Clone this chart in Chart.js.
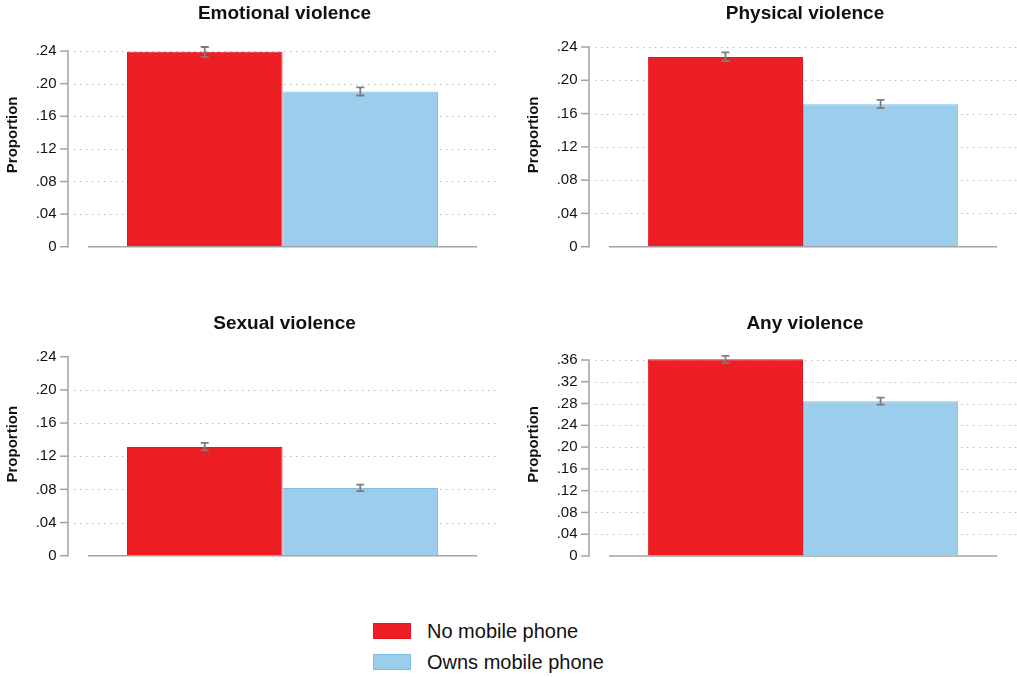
<!DOCTYPE html>
<html><head><meta charset="utf-8">
<script src="https://cdn.jsdelivr.net/npm/chart.js@4.4.1/dist/chart.umd.min.js"></script>
<style>
html,body{margin:0;padding:0;background:#fff;width:1017px;height:677px;overflow:hidden;font-family:"Liberation Sans",Arial,Helvetica,sans-serif;}
.panel{position:absolute;}
.panel canvas{display:block;}
.lbox{position:absolute;box-sizing:border-box;width:38px;height:16px;}
.ltxt{position:absolute;font-size:20px;line-height:20px;color:#111;white-space:nowrap;}
</style></head><body>
<div class="panel" style="left:0;top:0"><canvas id="c0" width="508" height="300"></canvas></div>
<div class="panel" style="left:521px;top:0"><canvas id="c1" width="496" height="300"></canvas></div>
<div class="panel" style="left:0;top:310px"><canvas id="c2" width="508" height="300"></canvas></div>
<div class="panel" style="left:521px;top:310px"><canvas id="c3" width="496" height="300"></canvas></div>
<div id="legend"></div>
<script>
// ---- data ----
const panelTitles = ['Emotional violence', 'Physical violence', 'Sexual violence', 'Any violence'];
const seriesNames = ['No mobile phone', 'Owns mobile phone'];
const noPhone      = [0.2393, 0.2280, 0.1310, 0.3613];
const noPhoneLow   = [0.2330, 0.2232, 0.1270, 0.3545];
const noPhoneHigh  = [0.2450, 0.2335, 0.1360, 0.3675];
const ownsPhone     = [0.1905, 0.1712, 0.0817, 0.2842];
const ownsPhoneLow  = [0.1855, 0.1665, 0.0778, 0.2780];
const ownsPhoneHigh = [0.1955, 0.1765, 0.0857, 0.2908];
const ticks24 = [0, 0.04, 0.08, 0.12, 0.16, 0.20, 0.24];
const ticks36 = [0, 0.04, 0.08, 0.12, 0.16, 0.20, 0.24, 0.28, 0.32, 0.36];
const panelTicks = [ticks24, ticks24, ticks24, ticks36];
const axisMax = [0.245, 0.24, 0.24, 0.366];
const yTitle = 'Proportion';

const RED = '#ED1E24', RED_B = '#E01A21';
const BLUE = '#9BCDED', BLUE_B = '#82BDE8';
const FONT = '"Liberation Sans", Arial, Helvetica, sans-serif';
const omitTopGrid = [false, false, true, false];

function fmt(v) { return v === 0 ? '0' : v.toFixed(2).replace(/^0/, ''); }

const decor = {
  id: 'decor',
  beforeDatasetsDraw(chart) {
    const ctx = chart.ctx, ca = chart.chartArea, y = chart.scales.y, i = chart.$idx;
    const tv = panelTicks[i];
    ctx.save();
    // dotted gridlines
    ctx.strokeStyle = '#b3b3b3'; ctx.lineWidth = 1.2; ctx.setLineDash([1.3, 4.7]);
    tv.forEach((v, k) => {
      if (v === 0) return;
      if (k === tv.length - 1 && omitTopGrid[i]) return;
      const py = Math.round(y.getPixelForValue(v)) + 0.5;
      ctx.beginPath(); ctx.moveTo(ca.left + 6, py); ctx.lineTo(ca.right, py); ctx.stroke();
    });
    ctx.setLineDash([]);
    // y axis line + ticks
    ctx.strokeStyle = '#a3a3a3'; ctx.lineWidth = 1.5;
    const x0 = ca.left;
    const y0 = y.getPixelForValue(0), yt = y.getPixelForValue(tv[tv.length - 1]);
    ctx.beginPath(); ctx.moveTo(x0, y0 + 0.75); ctx.lineTo(x0, yt - 0.75); ctx.stroke();
    tv.forEach(v => {
      const py = y.getPixelForValue(v);
      ctx.beginPath(); ctx.moveTo(x0 - 8, py); ctx.lineTo(x0, py); ctx.stroke();
    });
    // x baseline
    ctx.beginPath(); ctx.moveTo(ca.left + 20, y0); ctx.lineTo(ca.right - 20, y0); ctx.stroke();
    ctx.restore();
  },
  afterDatasetsDraw(chart) {
    const ctx = chart.ctx, ca = chart.chartArea, y = chart.scales.y, i = chart.$idx;
    ctx.save();
    // error bars
    ctx.strokeStyle = '#7d7d7d'; ctx.lineWidth = 1.8;
    chart.data.datasets.forEach((ds, d) => {
      const bar = chart.getDatasetMeta(d).data[0];
      const lo = y.getPixelForValue(ds.lows[0]), hi = y.getPixelForValue(ds.highs[0]);
      const bx = bar.x;
      ctx.beginPath();
      ctx.moveTo(bx, lo); ctx.lineTo(bx, hi);
      ctx.moveTo(bx - 4, lo); ctx.lineTo(bx + 4, lo);
      ctx.moveTo(bx - 4, hi); ctx.lineTo(bx + 4, hi);
      ctx.stroke();
    });
    // panel title
    ctx.fillStyle = '#111';
    ctx.font = 'bold 19px ' + FONT;
    ctx.textAlign = 'center'; ctx.textBaseline = 'middle';
    ctx.fillText(chart.data.labels[0], (ca.left + ca.right) / 2 + 2, 14);
    // y axis title
    ctx.font = 'bold 15px ' + FONT;
    ctx.translate(13, (ca.top + ca.bottom) / 2 - 12);
    ctx.rotate(-Math.PI / 2);
    ctx.fillText(yTitle, 0, 0);
    ctx.restore();
  }
};

const pads = [
  {top: 47, right: 11, bottom: 53.3, left: 0},
  {top: 47, right: 0, bottom: 53.3, left: 0},
  {top: 46.7, right: 11, bottom: 54.3, left: 0},
  {top: 46.7, right: 0, bottom: 54, left: 0}
];

for (let i = 0; i < 4; i++) {
  const chart = new Chart(document.getElementById('c' + i), {
    type: 'bar',
    data: {
      labels: [panelTitles[i]],
      datasets: [
        {label: seriesNames[0], data: [noPhone[i]], lows: [noPhoneLow[i]], highs: [noPhoneHigh[i]],
         backgroundColor: RED, borderColor: RED_B, borderWidth: 1},
        {label: seriesNames[1], data: [ownsPhone[i]], lows: [ownsPhoneLow[i]], highs: [ownsPhoneHigh[i]],
         backgroundColor: BLUE, borderColor: BLUE_B, borderWidth: 1}
      ]
    },
    options: {
      responsive: false, animation: false, devicePixelRatio: 1,
      layout: {padding: pads[i]},
      datasets: {bar: {categoryPercentage: 0.725, barPercentage: 1}},
      plugins: {legend: {display: false}, title: {display: false}, tooltip: {enabled: false}},
      scales: {
        x: {display: false},
        y: {
          min: 0, max: axisMax[i],
          afterFit(s) { s.width = 68; },
          afterBuildTicks(s) { s.ticks = panelTicks[i].map(v => ({value: v})); },
          grid: {drawOnChartArea: false, drawTicks: false},
          border: {display: false},
          ticks: {padding: 11.5, color: '#111', font: {size: 15, family: FONT}, callback: v => fmt(v)}
        }
      }
    },
    plugins: [{id: 'idx', beforeInit(c) { c.$idx = i; }}, decor]
  });
  chart.$idx = i;
  chart.draw();
}

// legend (HTML)
const leg = document.getElementById('legend');
const legColors = [[RED, RED_B], [BLUE, BLUE_B]];
const legTops = [623, 654];
seriesNames.forEach((name, k) => {
  const b = document.createElement('div');
  b.className = 'lbox';
  b.style.left = '373px'; b.style.top = legTops[k] + 'px';
  b.style.background = legColors[k][0];
  b.style.border = '1.5px solid ' + legColors[k][1];
  leg.appendChild(b);
  const t = document.createElement('div');
  t.className = 'ltxt';
  t.style.left = '427px'; t.style.top = (legTops[k] - 2) + 'px';
  t.textContent = name;
  leg.appendChild(t);
});
</script>
</body></html>
